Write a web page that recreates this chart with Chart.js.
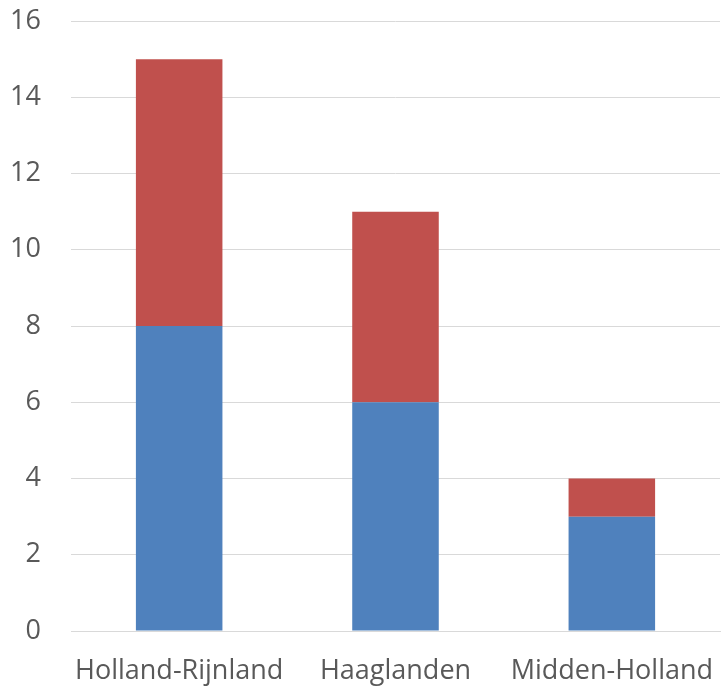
<!DOCTYPE html>
<html>
<head>
<meta charset="utf-8">
<script src="https://cdn.jsdelivr.net/npm/chart.js@4/dist/chart.umd.min.js"></script>
<style>
  html, body { margin: 0; padding: 0; background: #fff; }
  #wrap { width: 721px; height: 692px; }
</style>
</head>
<body>
<div id="wrap"><canvas id="chart"></canvas></div>
<script>
  const regions = ['Holland-Rijnland', 'Haaglanden', 'Midden-Holland'];
  const blueValues = [8, 6, 3];
  const redValues = [7, 5, 1];
  const yTicks = [0, 2, 4, 6, 8, 10, 12, 14, 16];

  const ctx = document.getElementById('chart').getContext('2d');
  new Chart(ctx, {
    type: 'bar',
    data: {
      labels: regions,
      datasets: [
        {
          label: 'Serie 1',
          data: blueValues,
          backgroundColor: '#4F81BD',
          categoryPercentage: 0.4,
          barPercentage: 1
        },
        {
          label: 'Serie 2',
          data: redValues,
          backgroundColor: '#C0504D',
          categoryPercentage: 0.4,
          barPercentage: 1
        }
      ]
    },
    options: {
      responsive: true,
      maintainAspectRatio: false,
      animation: false,
      layout: { padding: { top: 21, right: 1, left: 0, bottom: 0 } },
      scales: {
        x: {
          stacked: true,
          grid: { display: false },
          border: { color: '#d9d9d9', width: 1 },
          ticks: {
            color: '#595959',
            font: { family: 'Open Sans', size: 27 },
            padding: 16,
            maxRotation: 0
          },
          afterFit: (scale) => {
            scale.height = 61;
            scale.paddingLeft = 0;
            scale.paddingRight = 0;
          }
        },
        y: {
          stacked: true,
          min: 0,
          max: 16,
          afterBuildTicks: (scale) => { scale.ticks = yTicks.map(v => ({ value: v })); },
          grid: { color: '#d9d9d9', drawTicks: false, lineWidth: 1 },
          border: { display: false },
          ticks: {
            color: '#595959',
            font: { family: 'Open Sans', size: 27 },
            padding: 30
          },
          afterFit: (scale) => {
            scale.width = 71;
            scale.paddingTop = 0;
            scale.paddingBottom = 0;
          }
        }
      },
      plugins: {
        legend: { display: false },
        tooltip: { enabled: false }
      }
    }
  });
</script>
</body>
</html>
